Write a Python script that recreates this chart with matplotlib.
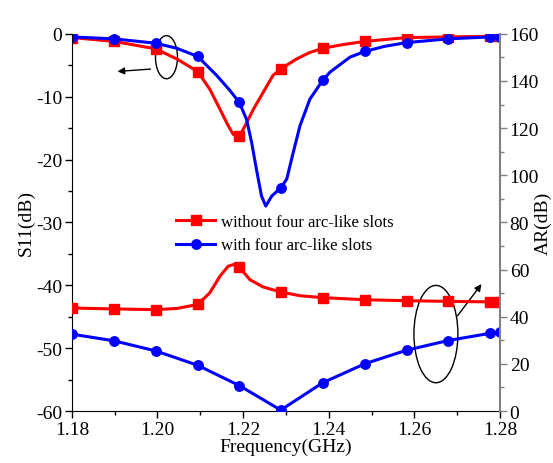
import numpy as np
import matplotlib.pyplot as plt
from matplotlib.patches import Ellipse
from matplotlib.ticker import MultipleLocator

plt.rcParams['font.family'] = ['Liberation Serif', 'DejaVu Serif']
plt.rcParams['font.size'] = 14
plt.rcParams['axes.unicode_minus'] = False

# marker frequencies (GHz)
marker_freq = [1.18, 1.1898, 1.1996, 1.2094, 1.2191, 1.2288, 1.2386,
               1.2485, 1.2582, 1.2679, 1.2778, 1.28]

# S11 without slots
freq_s11_red = [1.18, 1.1898, 1.1996, 1.2045, 1.2094, 1.2122, 1.2146, 1.2165,
                1.2177, 1.2191, 1.2205, 1.2224, 1.2247, 1.2270, 1.2288, 1.2325,
                1.2355, 1.2386, 1.2435, 1.2485, 1.2582, 1.2679, 1.2778, 1.28]
s11_red = [-0.6, -1.2, -2.4, -4.0, -6.0, -8.8, -12.0, -14.6,
           -16.0, -16.3, -14.6, -12.0, -9.3, -6.6, -5.6, -4.0,
           -3.0, -2.3, -1.7, -1.2, -0.6, -0.5, -0.4, -0.4]

# S11 with slots
freq_s11_blue = [1.18, 1.1898, 1.1996, 1.2045, 1.2094, 1.2138, 1.2169, 1.2191,
                 1.2208, 1.2220, 1.2231, 1.2243, 1.2253, 1.2267, 1.2288, 1.2302,
                 1.2317, 1.2333, 1.2356, 1.2386, 1.2403, 1.2450, 1.2485, 1.2530,
                 1.2582, 1.2679, 1.2778, 1.28]
s11_blue = [-0.5, -0.8, -1.5, -2.3, -3.6, -6.6, -9.0, -10.9,
            -13.6, -17.3, -21.5, -25.8, -27.4, -25.8, -24.5, -23.1,
            -18.9, -14.6, -10.4, -7.4, -6.1, -3.7, -2.8, -2.0,
            -1.4, -0.8, -0.5, -0.5]

# AR without slots
freq_ar_red = [1.18, 1.1898, 1.1996, 1.2045, 1.2094, 1.2122, 1.2146, 1.2165,
               1.2177, 1.2191, 1.2216, 1.2247, 1.2288, 1.2333, 1.2386,
               1.2485, 1.2582, 1.2679, 1.2778, 1.28]
ar_red = [43.7, 43.3, 43.0, 43.5, 45.2, 50.1, 57.2, 61.4,
          62.1, 61.0, 55.7, 52.6, 50.5, 48.9, 48.1,
          47.2, 46.8, 46.5, 46.3, 46.3]

# AR with slots
freq_ar_blue = [1.18, 1.1898, 1.1996, 1.2094, 1.2191, 1.2288, 1.2386,
                1.2485, 1.2582, 1.2679, 1.2778, 1.28]
ar_blue = [32.6, 29.8, 25.5, 19.4, 10.8, 0.4, 12.0, 20.1, 25.8, 29.9, 33.0, 33.5]


def marks(freqs):
    return [i for i, f in enumerate(freqs) if np.isclose(marker_freq, f).any()]


fig = plt.figure(figsize=(5.53, 4.64), dpi=100)
ax = fig.add_axes([0.130, 0.112, 0.774, 0.813])
ax2 = ax.twinx()

red = '#ff0000'
blue = '#0000ff'
kw = dict(lw=2.2, ms=6.8)

ax.plot(freq_s11_red, s11_red, color=red, marker='s', markevery=marks(freq_s11_red),
        label='without four arc-like slots', **kw)
ax.plot(freq_s11_blue, s11_blue, color=blue, marker='o', markevery=marks(freq_s11_blue),
        label='with four arc-like slots', **kw)
ax2.plot(freq_ar_red, ar_red, color=red, marker='s', markevery=marks(freq_ar_red), **kw)
ax2.plot(freq_ar_blue, ar_blue, color=blue, marker='o', **kw)

ax.set_xlim(1.18, 1.28)
ax.set_ylim(-60, 0)
ax2.set_ylim(0, 160)
ax.xaxis.set_major_locator(MultipleLocator(0.02))
ax.xaxis.set_minor_locator(MultipleLocator(0.01))
ax.yaxis.set_major_locator(MultipleLocator(10))
ax.yaxis.set_minor_locator(MultipleLocator(5))
ax2.yaxis.set_major_locator(MultipleLocator(20))
ax2.yaxis.set_minor_locator(MultipleLocator(10))
ax.xaxis.set_major_formatter(plt.FuncFormatter(lambda v, p: f'{v:.2f}'))

for a in (ax, ax2):
    a.spines['top'].set_visible(False)
    a.tick_params(which='major', direction='out', length=5, width=1, pad=2)
    a.tick_params(which='minor', direction='out', length=3, width=1)
ax.spines['right'].set_visible(False)
ax2.spines['left'].set_visible(False)
ax2.spines['bottom'].set_visible(False)
ax2.spines['right'].set_color('#808080')
ax2.spines['right'].set_linewidth(1.5)
ax2.tick_params(axis='y', which='both', color='#808080')

ax.set_xlabel('Frequency(GHz)', labelpad=0)
ax.set_ylabel('S11(dB)', labelpad=1)
ax2.set_ylabel('AR(dB)', labelpad=-3)

ax.legend(loc='upper left', bbox_to_anchor=(0.298, 0.562), bbox_transform=fig.transFigure,
          frameon=False, handlelength=2.3, handletextpad=0.4, labelspacing=0.45,
          borderpad=0.2, fontsize=12)

# annotations
ax.add_patch(Ellipse((1.2021, -3.72), 0.00514, 6.86, fill=False, ec='black', lw=1))
ax.annotate('', xy=(1.1900, -6.02), xytext=(1.1990, -5.58),
            arrowprops=dict(arrowstyle='-|>', color='black', lw=1, mutation_scale=10))
ax.add_patch(Ellipse((1.26505, -47.76), 0.01028, 15.48, fill=False, ec='black', lw=1))
ax.annotate('', xy=(1.2761, -39.46), xytext=(1.2697, -45.2),
            arrowprops=dict(arrowstyle='-|>', color='black', lw=1, mutation_scale=10))

fig.savefig('out.png', dpi=100)
